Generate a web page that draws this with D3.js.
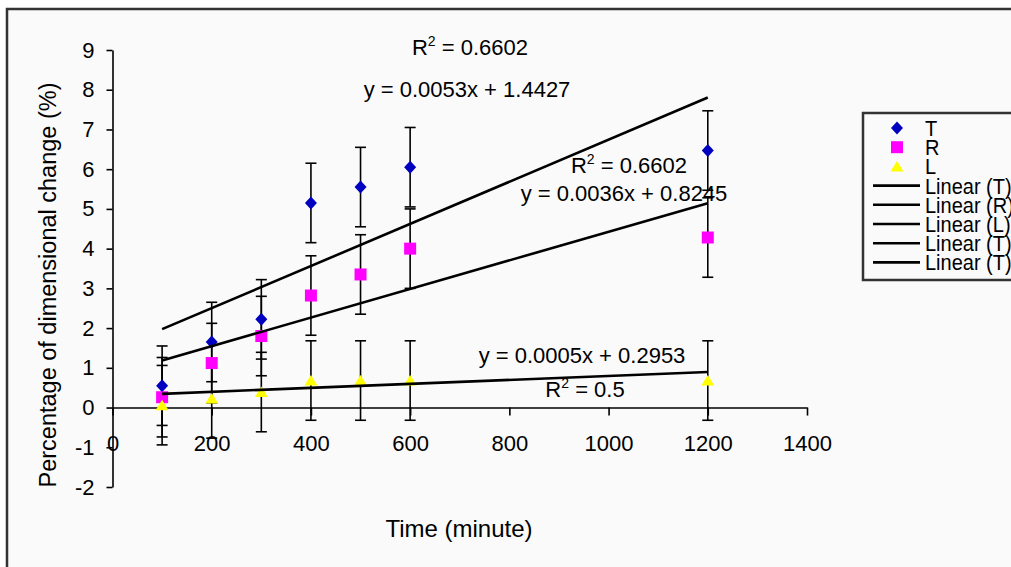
<!DOCTYPE html>
<html>
<head>
<meta charset="utf-8">
<title>Dimensional change vs time</title>
<style>
    body { margin: 0; background: #fff; }
    text { font-family: Arial, "Liberation Sans", sans-serif; fill: #000; }
</style>
<script src="https://cdnjs.cloudflare.com/ajax/libs/d3/7.8.5/d3.min.js"></script>
</head>
<body>
<svg id="chart" width="1011" height="567"></svg>
<script>
// data
const times = [100, 200, 300, 400, 500, 600, 1200];
const valT = [0.55, 1.65, 2.22, 5.15, 5.55, 6.05, 6.47];
const valR = [0.26, 1.12, 1.80, 2.82, 3.35, 4.00, 4.28];
const valL = [0.06, 0.23, 0.39, 0.68, 0.68, 0.68, 0.68];
const errT = [1, 1, 1, 1, 1, 1, 1];
const errR = [1, 1, 1, 1, 1, 1, 1];
const errL = [1, 1, 1, 1, 1, 1, 1];
const seriesNames = ["T", "R", "L"];
const slopes = [0.0053, 0.0036, 0.0005];
const intercepts = [1.4427, 0.8245, 0.2953];
const equations = ["y = 0.0053x + 1.4427", "y = 0.0036x + 0.8245", "y = 0.0005x + 0.2953"];
const r2Values = ["0.6602", "0.6602", "0.5"];
const xTicks = [0, 200, 400, 600, 800, 1000, 1200, 1400];
const yTicks = [-2, -1, 0, 1, 2, 3, 4, 5, 6, 7, 8, 9];
const legendLabels = ["T", "R", "L", "Linear (T)", "Linear (R)", "Linear (L)", "Linear (T)", "Linear (T)"];

const colors = ["#0000c0", "#ff00ff", "#ffff00"];
const values = [valT, valR, valL];
const errs = [errT, errR, errL];

const svg = d3.select("#chart");

// chart area with border
svg.append("rect")
    .attr("x", 7).attr("y", 9)
    .attr("width", 1040).attr("height", 600)
    .attr("fill", "#fafafa")
    .attr("stroke", "#333")
    .attr("stroke-width", 2.5);

const x = d3.scaleLinear().domain([0, 1400]).range([112.5, 807]);
const y = d3.scaleLinear().domain([-2, 9]).range([487, 50]);

// plain hyphen for negatives, like the original
const fmt = d => String(d);

// y axis
const yAxis = svg.append("g")
    .attr("transform", `translate(${x(0)},0)`)
    .call(d3.axisLeft(y).tickValues(yTicks).tickSize(6).tickSizeOuter(0).tickPadding(12).tickFormat(fmt));
yAxis.selectAll("text").attr("font-size", 22).attr("font-family", null);

// x axis at y = 0
const xAxis = svg.append("g")
    .attr("transform", `translate(0,${y(0)})`)
    .call(d3.axisBottom(x).tickValues(xTicks).tickSize(8).tickSizeOuter(0).tickPadding(20).tickFormat(fmt));
xAxis.selectAll("text").attr("font-size", 22).attr("font-family", null);

svg.selectAll(".domain, .tick line").attr("stroke", "#000").attr("stroke-width", 1.6);

// axis titles
svg.append("text")
    .attr("x", 459).attr("y", 537)
    .attr("text-anchor", "middle")
    .attr("font-size", 24)
    .text("Time (minute)");

svg.append("text")
    .attr("transform", "translate(56,285) rotate(-90)")
    .attr("text-anchor", "middle")
    .attr("font-size", 23.5)
    .text("Percentage of dimensional change (%)");

// error bars
const capW = 5.5;
seriesNames.forEach((name, s) => {
    const g = svg.append("g").attr("class", "err-" + name);
    times.forEach((t, i) => {
        const v = values[s][i], e = errs[s][i];
        g.append("line")
            .attr("x1", x(t)).attr("x2", x(t))
            .attr("y1", y(v - e)).attr("y2", y(v + e))
            .attr("stroke", "#000").attr("stroke-width", 1.6);
        [v - e, v + e].forEach(c => {
            g.append("line")
                .attr("x1", x(t) - capW).attr("x2", x(t) + capW)
                .attr("y1", y(c)).attr("y2", y(c))
                .attr("stroke", "#000").attr("stroke-width", 1.6);
        });
    });
});

// marker shapes
function markerPath(s) {
    if (s === 0) return "M0,-6.5L6,0L0,6.5L-6,0Z";
    if (s === 1) return "M-6,-6H6V6H-6Z";
    return "M0,-5.5L6.5,5L-6.5,5Z";
}

seriesNames.forEach((name, s) => {
    svg.append("g")
        .selectAll("path")
        .data(times.map((t, i) => ({ t: t, v: values[s][i] })))
        .enter().append("path")
        .attr("d", markerPath(s))
        .attr("fill", colors[s])
        .attr("transform", d => `translate(${x(d.t)},${y(d.v)})`);
});

// trend lines
const trendX = [times[0], times[times.length - 1]];
const line = d3.line().x(d => x(d[0])).y(d => y(d[1]));
slopes.forEach((m, k) => {
    svg.append("path")
        .attr("d", line(trendX.map(t => [t, m * t + intercepts[k]])))
        .attr("fill", "none")
        .attr("stroke", "#000")
        .attr("stroke-width", 2.6);
});

// trend line labels
const eqPos = [[467, 97], [624, 201], [582, 363]];
const r2Pos = [[470, 55], [629, 173], [585, 397]];
equations.forEach((eq, k) => {
    svg.append("text")
        .attr("x", eqPos[k][0]).attr("y", eqPos[k][1])
        .attr("text-anchor", "middle")
        .attr("font-size", 22)
        .text(eq);
    const r = svg.append("text")
        .attr("x", r2Pos[k][0]).attr("y", r2Pos[k][1])
        .attr("text-anchor", "middle")
        .attr("font-size", 22);
    r.append("tspan").text("R");
    r.append("tspan").attr("font-size", 14).attr("dy", -9).text("2");
    r.append("tspan").attr("dy", 9).text(" = " + r2Values[k]);
});

// legend
const legend = svg.append("g");
legend.append("rect")
    .attr("x", 863).attr("y", 113)
    .attr("width", 200).attr("height", 167)
    .attr("fill", "#fafafa")
    .attr("stroke", "#333")
    .attr("stroke-width", 2.5);

legendLabels.forEach((lab, i) => {
    const ly = 128 + i * 19.2;
    if (i < 3) {
        legend.append("path")
            .attr("d", markerPath(i))
            .attr("fill", colors[i])
            .attr("transform", `translate(897,${ly})`);
    } else {
        legend.append("line")
            .attr("x1", 873).attr("x2", 920)
            .attr("y1", ly).attr("y2", ly)
            .attr("stroke", "#000").attr("stroke-width", 2.6);
    }
    legend.append("text")
        .attr("transform", `translate(925,${ly}) scale(1,1.12)`)
        .attr("dy", "0.36em")
        .attr("font-size", 20)
        .text(lab);
});
</script>
</body>
</html>
